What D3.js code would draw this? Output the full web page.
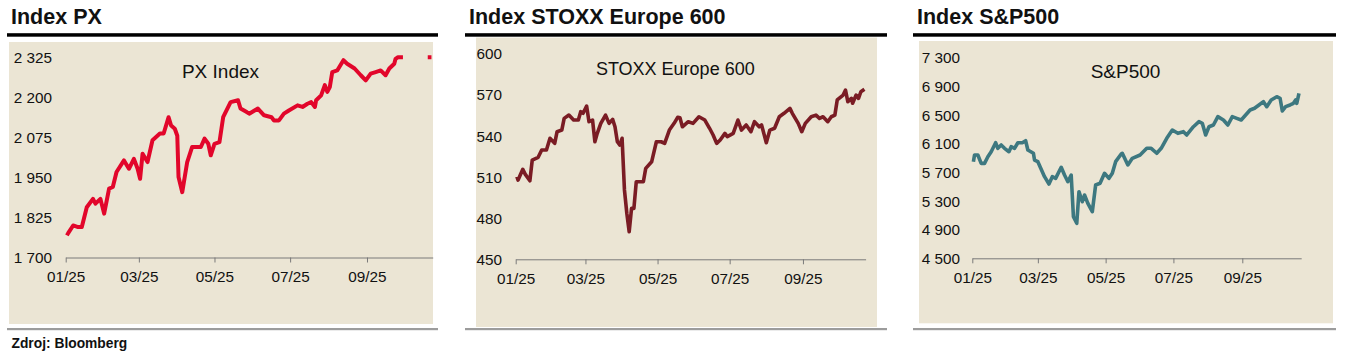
<!DOCTYPE html>
<html><head><meta charset="utf-8">
<script src="https://cdn.jsdelivr.net/npm/d3@7"></script>
<style>
body{margin:0;background:#fff;}
svg{display:block;font-family:"Liberation Sans",Arial,Helvetica,sans-serif;}
</style></head><body>
<svg id="c" width="1349" height="355"></svg>
<script>
// ---------- DATA ----------
const xDomain = ["2025-01-01", "2025-10-24"];
const xTickDates = ["2025-01-01", "2025-03-01", "2025-05-01", "2025-07-01", "2025-09-01"];

const panelTitles = ["Index PX", "Index STOXX Europe 600", "Index S&P500"];
const innerTitles = ["PX Index", "STOXX Europe 600", "S&P500"];
const sourceText = "Zdroj: Bloomberg";

const pxTicks = [1700, 1825, 1950, 2075, 2200, 2325];
const stoxxTicks = [450, 480, 510, 540, 570, 600];
const spxTicks = [4500, 4900, 5300, 5700, 6100, 6500, 6900, 7300];

const pxDates = ["2025-01-02","2025-01-03","2025-01-07","2025-01-11","2025-01-14","2025-01-18","2025-01-23","2025-01-25","2025-01-29","2025-02-01","2025-02-05","2025-02-08","2025-02-11","2025-02-17","2025-02-21","2025-02-25","2025-02-28","2025-03-02","2025-03-04","2025-03-08","2025-03-12","2025-03-18","2025-03-21","2025-03-25","2025-03-27","2025-03-30","2025-04-01","2025-04-02","2025-04-05","2025-04-09","2025-04-13","2025-04-20","2025-04-23","2025-04-26","2025-04-28","2025-05-01","2025-05-05","2025-05-08","2025-05-14","2025-05-20","2025-05-22","2025-05-27","2025-05-29","2025-06-05","2025-06-10","2025-06-16","2025-06-18","2025-06-22","2025-06-26","2025-06-30","2025-07-07","2025-07-11","2025-07-15","2025-07-18","2025-07-21","2025-07-22","2025-07-26","2025-07-29","2025-07-31","2025-08-02","2025-08-04","2025-08-08","2025-08-13","2025-08-16","2025-08-22","2025-08-27","2025-08-31","2025-09-04","2025-09-08","2025-09-12","2025-09-16","2025-09-19","2025-09-23","2025-09-24","2025-09-26","2025-09-30","2025-10-10","2025-10-20","2025-10-23"];
const pxValues = [1769,1776,1800,1795,1795,1857,1883,1868,1883,1837,1915,1920,1967,2003,1977,2008,1977,1946,2024,1998,2066,2087,2087,2138,2112,2102,2080,1951,1904,1998,2045,2045,2071,2055,2019,2055,2060,2138,2185,2191,2165,2154,2149,2165,2144,2138,2128,2128,2149,2159,2175,2170,2180,2185,2170,2191,2206,2238,2217,2232,2279,2284,2316,2305,2290,2269,2253,2274,2279,2284,2269,2290,2305,2320,2330,2335,null,2335,2340];

const stoxxDates = ["2025-01-02","2025-01-03","2025-01-07","2025-01-09","2025-01-13","2025-01-15","2025-01-20","2025-01-23","2025-01-27","2025-01-30","2025-02-03","2025-02-05","2025-02-09","2025-02-11","2025-02-15","2025-02-19","2025-02-23","2025-02-25","2025-02-27","2025-03-02","2025-03-04","2025-03-07","2025-03-09","2025-03-11","2025-03-14","2025-03-18","2025-03-21","2025-03-24","2025-03-26","2025-03-28","2025-03-30","2025-04-01","2025-04-03","2025-04-05","2025-04-07","2025-04-09","2025-04-11","2025-04-13","2025-04-19","2025-04-21","2025-04-26","2025-04-30","2025-05-04","2025-05-07","2025-05-11","2025-05-15","2025-05-18","2025-05-20","2025-05-22","2025-05-27","2025-05-31","2025-06-05","2025-06-10","2025-06-14","2025-06-17","2025-06-20","2025-06-23","2025-06-27","2025-06-29","2025-07-04","2025-07-08","2025-07-11","2025-07-15","2025-07-19","2025-07-22","2025-07-26","2025-07-28","2025-08-01","2025-08-04","2025-08-08","2025-08-12","2025-08-16","2025-08-21","2025-08-23","2025-08-28","2025-08-31","2025-09-03","2025-09-08","2025-09-12","2025-09-15","2025-09-18","2025-09-22","2025-09-25","2025-09-28","2025-09-30","2025-10-05","2025-10-07","2025-10-09","2025-10-12","2025-10-13","2025-10-16","2025-10-18","2025-10-20","2025-10-23"];
const stoxxValues = [510.1,507.7,515.5,512,507.2,522.3,524.3,529.6,529.6,538.1,534.4,542.9,544.1,552.6,555,551.4,551.4,557.5,556.3,561.6,550.2,551.4,535.6,541.7,549,555,549,551.9,546.5,535.6,533.2,538.1,500.5,483.5,470.1,487.1,487.1,506.5,506.5,516.2,521,535.6,535.6,534.4,544.1,549,553.4,553,546.5,550.2,549,553.8,551.4,545.4,540.5,534.4,536.9,541.7,539.3,541.7,551.4,544.1,547.8,542.9,550.2,546.5,547.8,534.9,544.1,545.4,553.8,556.3,559.9,556.3,549,542.9,549,553.8,555,552.6,553.8,550.2,553.8,555,566,569.6,573.2,564.7,567.2,563.6,569.6,567.2,572,573.8];

const spxDates = ["2025-01-02","2025-01-03","2025-01-06","2025-01-09","2025-01-12","2025-01-15","2025-01-18","2025-01-22","2025-01-24","2025-01-27","2025-01-30","2025-02-03","2025-02-05","2025-02-08","2025-02-11","2025-02-15","2025-02-18","2025-02-20","2025-02-25","2025-02-26","2025-03-01","2025-03-03","2025-03-07","2025-03-11","2025-03-14","2025-03-17","2025-03-22","2025-03-25","2025-03-28","2025-03-31","2025-04-02","2025-04-05","2025-04-07","2025-04-10","2025-04-12","2025-04-15","2025-04-19","2025-04-22","2025-04-26","2025-04-30","2025-05-04","2025-05-07","2025-05-10","2025-05-15","2025-05-16","2025-05-21","2025-05-25","2025-06-01","2025-06-07","2025-06-11","2025-06-16","2025-06-20","2025-06-25","2025-06-30","2025-07-05","2025-07-10","2025-07-13","2025-07-19","2025-07-24","2025-07-27","2025-07-30","2025-08-02","2025-08-06","2025-08-10","2025-08-15","2025-08-19","2025-08-23","2025-08-27","2025-08-31","2025-09-04","2025-09-08","2025-09-12","2025-09-16","2025-09-20","2025-09-23","2025-09-27","2025-10-02","2025-10-05","2025-10-07","2025-10-10","2025-10-14","2025-10-17","2025-10-19","2025-10-20","2025-10-22"];
const spxValues = [5846,5939,5939,5823,5823,5915,5985,6110,6032,6078,6032,5985,6055,6032,6110,6110,6138,6009,5963,5869,5846,5776,5637,5535,5637,5614,5768,5660,5567,5660,5080,4988,5428,5288,5382,5266,5149,5521,5545,5684,5614,5684,5846,5953,5963,5800,5893,5939,6032,6032,5963,6032,6172,6287,6241,6264,6218,6333,6403,6381,6218,6333,6357,6473,6427,6357,6473,6450,6427,6496,6566,6590,6636,6682,6612,6705,6751,6729,6552,6612,6636,6659,6705,6659,6798];

// ---------- LAYOUT / STYLE ----------
const parse = d3.utcParse("%Y-%m-%d");
const loc = d3.formatLocale({decimal: ".", thousands: " ", grouping: [3], currency: ["", ""]});
const fmtNum = loc.format(",d");
const fmtDate = d3.utcFormat("%m/%y");

const panels = [
  {title: panelTitles[0], inner: innerTitles[0], dates: pxDates, values: pxValues, ticks: pxTicks,
   color: "#e2062b", width: 4, titleX: 11, rule: [7, 438], bg: [9, 42, 433, 324],
   xr: [65.7, 432.7], yr: [257.5, 57.3], labelRight: 52, innerX: 220.5, innerY: 78, innerSize: 19},
  {title: panelTitles[1], inner: innerTitles[1], dates: stoxxDates, values: stoxxValues, ticks: stoxxTicks,
   color: "#7a1c24", width: 3.6, titleX: 469, rule: [465, 887], bg: [476, 37.5, 877, 327],
   xr: [515.7, 865.6], yr: [259.3, 53.3], labelRight: 502, innerX: 675.3, innerY: 75, innerSize: 18},
  {title: panelTitles[2], inner: innerTitles[2], dates: spxDates, values: spxValues, ticks: spxTicks,
   color: "#3d7880", width: 3.6, titleX: 917, rule: [913, 1336], bg: [919, 41, 1333, 323.3],
   xr: [972.3, 1301.2], yr: [258.3, 57.3], labelRight: 960, innerX: 1125.5, innerY: 78, innerSize: 19}
];

const svg = d3.select("#c");

panels.forEach(p => {
  const g = svg.append("g");
  g.append("text").attr("x", p.titleX).attr("y", 23.5)
    .attr("font-size", 21.5).attr("font-weight", "bold").attr("fill", "#111").text(p.title);
  g.append("rect").attr("x", p.rule[0]).attr("y", 33.2).attr("width", p.rule[1] - p.rule[0]).attr("height", 3.5).attr("fill", "#000");
  g.append("rect").attr("x", p.bg[0]).attr("y", p.bg[1]).attr("width", p.bg[2] - p.bg[0]).attr("height", p.bg[3] - p.bg[1]).attr("fill", "#ebe5d4");
  g.append("rect").attr("x", p.rule[0]).attr("y", 328).attr("width", p.rule[1] - p.rule[0]).attr("height", 2.2).attr("fill", "#9c9c9c");

  const x = d3.scaleUtc().domain(xDomain.map(parse)).range(p.xr);
  const y = d3.scaleLinear().domain(d3.extent(p.ticks)).range(p.yr).clamp(true);

  const xa = g.append("g").attr("transform", `translate(0,${p.yr[0]})`)
    .call(d3.axisBottom(x).tickValues(xTickDates.map(parse)).tickFormat(fmtDate).tickSize(5).tickSizeOuter(0));
  xa.select(".domain").attr("stroke", "#7a7a7a").attr("stroke-width", 1);
  xa.selectAll(".tick line").attr("stroke", "#7a7a7a");
  xa.selectAll(".tick text").attr("y", 24.5).attr("dy", 0).attr("font-size", 15.3)
    .attr("font-family", "Liberation Sans, Arial, sans-serif").attr("fill", "#111");

  const ya = g.append("g").attr("transform", `translate(${p.xr[0]},0)`)
    .call(d3.axisLeft(y).tickValues(p.ticks).tickFormat(fmtNum).tickSize(0).tickPadding(p.xr[0] - p.labelRight));
  ya.select(".domain").remove();
  ya.selectAll(".tick text").attr("font-size", 15.3).attr("dy", "0.35em")
    .attr("font-family", "Liberation Sans, Arial, sans-serif").attr("fill", "#111");

  g.append("text").attr("x", p.innerX).attr("y", p.innerY).attr("text-anchor", "middle")
    .attr("font-size", p.innerSize).attr("fill", "#111").text(p.inner);

  const data = p.dates.map((d, i) => ({date: parse(d), value: p.values[i]}));
  const line = d3.line().defined(d => d.value != null).x(d => x(d.date)).y(d => y(d.value));
  g.append("path").datum(data).attr("d", line).attr("fill", "none")
    .attr("stroke", p.color).attr("stroke-width", p.width).attr("stroke-linejoin", "round").attr("stroke-linecap", "butt");
});

svg.append("text").attr("x", 11.5).attr("y", 347.5).attr("font-size", 13.8).attr("font-weight", "bold")
  .attr("fill", "#111").text(sourceText);
</script>
</body></html>
